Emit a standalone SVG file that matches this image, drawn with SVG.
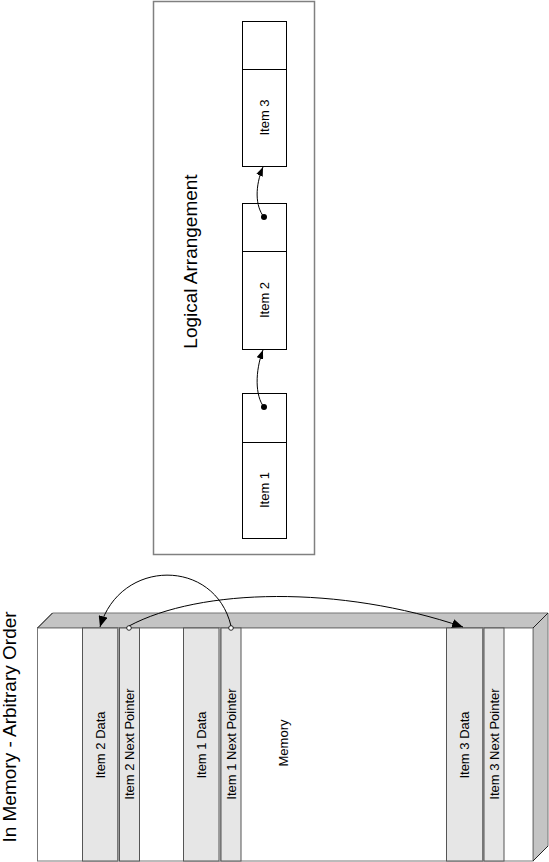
<svg xmlns="http://www.w3.org/2000/svg" width="549" height="862" viewBox="0 0 549 862">
<defs>
<style>
text{font-family:"Liberation Sans",Arial,sans-serif;fill:#000;text-anchor:middle}
.lbl{font-size:13px}
.ttl{font-size:19px}
.box{fill:#fff;stroke:#000;stroke-width:1}
.col{fill:#e6e6e6;stroke:#555;stroke-width:1}
.face{fill:#c4c4c4;stroke:#777;stroke-width:1}
.conn{fill:none;stroke:#000;stroke-width:1}
</style>
<marker id="ah" markerWidth="11" markerHeight="9" refX="11" refY="4.5" orient="auto" markerUnits="userSpaceOnUse"><path d="M0,0 L11,4.5 L0,9 z" fill="#000"/></marker>
<marker id="ahs" markerWidth="9" markerHeight="7" refX="9" refY="3.5" orient="auto" markerUnits="userSpaceOnUse"><path d="M0,0 L9,3.5 L0,7 z" fill="#000"/></marker>
</defs>
<rect width="549" height="862" fill="#fff"/>

<g id="logical-frame">
<rect x="153.5" y="1.5" width="161" height="553" fill="#fff" stroke="#808080" stroke-width="1.5"/>
<text class="ttl" transform="translate(197,261.5) rotate(-90)">Logical Arrangement</text>
</g>

<g id="item3">
<rect class="box" x="242.5" y="21.5" width="44" height="145"/>
<line x1="242.5" y1="69.5" x2="286.5" y2="69.5" stroke="#000"/>
<text class="lbl" transform="translate(268.5,117.5) rotate(-90)">Item 3</text>
</g>

<g id="item2">
<rect class="box" x="242.5" y="203.5" width="44" height="146"/>
<line x1="242.5" y1="251.5" x2="286.5" y2="251.5" stroke="#000"/>
<text class="lbl" transform="translate(268.5,300) rotate(-90)">Item 2</text>
</g>

<g id="item1">
<rect class="box" x="242.5" y="393.5" width="44" height="145"/>
<line x1="242.5" y1="442.5" x2="286.5" y2="442.5" stroke="#000"/>
<text class="lbl" transform="translate(268.5,490) rotate(-90)">Item 1</text>
</g>

<g id="memory">
<text class="ttl" transform="translate(16,727) rotate(-90)">In Memory - Arbitrary Order</text>
<polygon class="face" points="37.5,628 52.5,613 548,613 533,628"/>
<polygon class="face" points="533,628 548,613 548,846 533,861"/>
<rect x="37.5" y="628" width="495.5" height="233" fill="#fff" stroke="#777" stroke-width="1"/>
<line x1="533" y1="628" x2="548" y2="613" stroke="#222"/>
<line x1="533" y1="861" x2="548" y2="846" stroke="#222"/>
<line x1="37.5" y1="628" x2="52.5" y2="613" stroke="#222"/>
<text class="lbl" transform="translate(288,743) rotate(-90)">Memory</text>
</g>

<g id="item2-data">
<rect class="col" x="82.5" y="628" width="35" height="233"/>
<text class="lbl" transform="translate(104.5,745) rotate(-90)">Item 2 Data</text>
</g>
<g id="item2-next">
<rect x="117.5" y="628" width="2" height="233" fill="#999"/>
<rect class="col" x="119.5" y="628" width="20" height="233"/>
<text class="lbl" transform="translate(134,744) rotate(-90)">Item 2 Next Pointer</text>
</g>

<g id="item1-data">
<rect class="col" x="183.5" y="628" width="35.5" height="233"/>
<text class="lbl" transform="translate(205.5,745) rotate(-90)">Item 1 Data</text>
</g>
<g id="item1-next">
<rect x="219" y="628" width="2" height="233" fill="#999"/>
<rect class="col" x="221" y="628" width="20" height="233"/>
<text class="lbl" transform="translate(235.5,744) rotate(-90)">Item 1 Next Pointer</text>
</g>

<g id="item3-data">
<rect class="col" x="446.5" y="628" width="36" height="233"/>
<text class="lbl" transform="translate(468.5,745) rotate(-90)">Item 3 Data</text>
</g>
<g id="item3-next">
<rect x="482.5" y="628" width="1.5" height="233" fill="#999"/>
<rect class="col" x="484" y="628" width="20" height="233"/>
<text class="lbl" transform="translate(498.5,744) rotate(-90)">Item 3 Next Pointer</text>
</g>

<g id="connectors">
<path class="conn" d="M264,217 C255,206 255,186 263,167" marker-end="url(#ahs)"/>
<circle cx="264" cy="217" r="3" fill="#000"/>
<path class="conn" d="M264,407 C255,396 255,371 263,350" marker-end="url(#ahs)"/>
<circle cx="264" cy="407" r="3" fill="#000"/>
<path class="conn" d="M231,626 C215,558 120,558 100,627" marker-end="url(#ah)"/>
<path class="conn" d="M129,626 C200,588 340,585 463,627" marker-end="url(#ah)"/>
<circle cx="231" cy="628" r="2.3" fill="#fff" stroke="#000" stroke-width="0.8"/>
<circle cx="129" cy="628" r="2.3" fill="#fff" stroke="#000" stroke-width="0.8"/>
</g>
</svg>
